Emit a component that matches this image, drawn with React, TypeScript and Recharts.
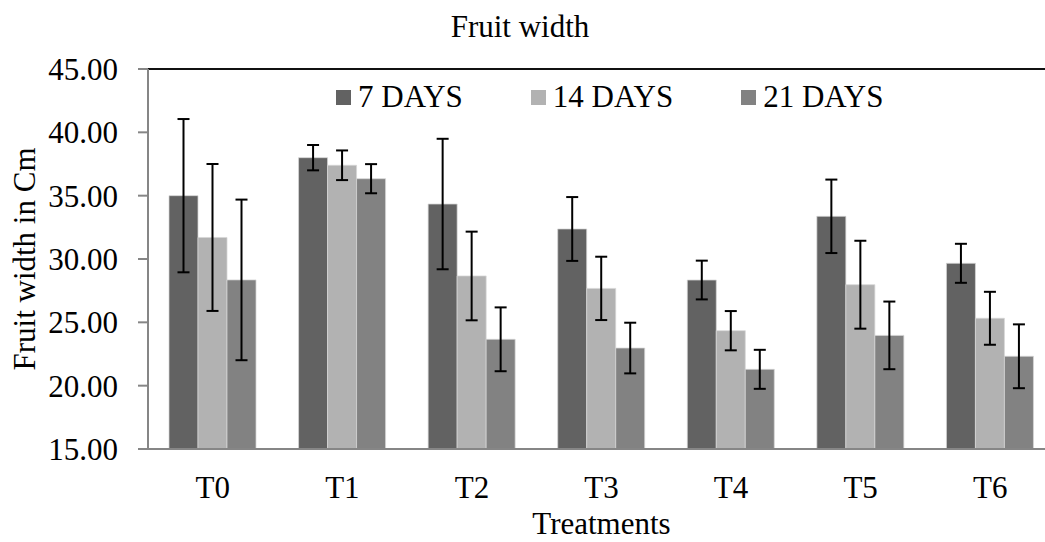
import { BarChart, Bar, XAxis, YAxis, ErrorBar, ReferenceLine } from 'recharts'

// Valeurs (largeur du fruit, écart en barres d'erreur)
const treatments = ['T0', 'T1', 'T2', 'T3', 'T4', 'T5', 'T6']
const days7 = [35.0, 38.0, 34.34, 32.37, 28.34, 33.37, 29.66]
const days7Err = [6.05, 1.0, 5.15, 2.52, 1.53, 2.9, 1.54]
const days14 = [31.7, 37.4, 28.66, 27.68, 24.34, 27.97, 25.32]
const days14Err = [5.8, 1.17, 3.5, 2.5, 1.55, 3.47, 2.09]
const days21 = [28.35, 36.34, 23.66, 22.97, 21.29, 23.97, 22.32]
const days21Err = [6.34, 1.15, 2.52, 2.0, 1.54, 2.67, 2.52]
const yTicks = [15, 20, 25, 30, 35, 40, 45]

const SERIES = [
  { key: 'd7', err: 'd7e', name: '7 DAYS', color: '#626262' },
  { key: 'd14', err: 'd14e', name: '14 DAYS', color: '#b2b2b2' },
  { key: 'd21', err: 'd21e', name: '21 DAYS', color: '#828282' },
]

const data = treatments.map((t, i) => ({
  name: t,
  d7: days7[i], d7e: days7Err[i],
  d14: days14[i], d14e: days14Err[i],
  d21: days21[i], d21e: days21Err[i],
}))

const FONT = '"Liberation Serif", "Times New Roman", serif'
const AXIS = '#868686'
const tickStyle = { fontSize: 31, fill: '#000', fontFamily: FONT }

// légende posée à la main : un <Legend> en haut pousserait la zone de tracé vers le bas
function LegendRow() {
  return (
    <div style={{
      position: 'absolute', top: 79, left: 336, display: 'flex', gap: 68,
      fontFamily: FONT, fontSize: 31, lineHeight: '36px', color: '#000', whiteSpace: 'nowrap',
    }}>
      {SERIES.map((s) => (
        <div key={s.key} style={{ display: 'flex', alignItems: 'center', gap: 7 }}>
          <span style={{ width: 15, height: 15, background: s.color, display: 'inline-block' }} />
          <span>{s.name}</span>
        </div>
      ))}
    </div>
  )
}

export default function App() {
  return (
    <div style={{ position: 'fixed', top: 0, left: 0, width: 1045, height: 542, overflow: 'hidden', background: '#fff', fontFamily: FONT }}>
      <BarChart
        width={1070}
        height={542}
        data={data}
        margin={{ top: 69, right: 15, left: 0, bottom: 0 }}
        barGap={0}
        barSize={29}
      >
        <text x={520} y={37} textAnchor="middle" fontSize={31} fontFamily={FONT} fill="#000">Fruit width</text>
        <XAxis
          dataKey="name"
          height={93}
          tick={tickStyle}
          tickLine={false}
          tickSize={0}
          tickMargin={27}
          axisLine={{ stroke: AXIS, strokeWidth: 2 }}
          label={{ value: 'Treatments', position: 'insideBottom', offset: 8, style: { fontSize: 31, fontFamily: FONT, fill: '#000' } }}
        />
        <YAxis
          width={148}
          domain={[15, 45]}
          ticks={yTicks}
          allowDataOverflow
          tick={tickStyle}
          tickFormatter={(v: number) => v.toFixed(2)}
          tickSize={10}
          tickMargin={20}
          tickLine={{ stroke: AXIS, strokeWidth: 2 }}
          axisLine={{ stroke: AXIS, strokeWidth: 2 }}
          label={{
            value: 'Fruit width in Cm', angle: -90, position: 'insideLeft', offset: 24,
            style: { fontSize: 31, fontFamily: FONT, fill: '#000', textAnchor: 'middle' },
          }}
        />
        <ReferenceLine y={45} stroke="#111" strokeWidth={2} />
        {SERIES.map((s) => (
          <Bar key={s.key} dataKey={s.key} name={s.name} fill={s.color} stroke="#d6d6d6" strokeWidth={0.75} isAnimationActive={false}>
            <ErrorBar dataKey={s.err} width={6} stroke="#000" strokeWidth={2} direction="y" />
          </Bar>
        ))}
      </BarChart>
      <LegendRow />
    </div>
  )
}
